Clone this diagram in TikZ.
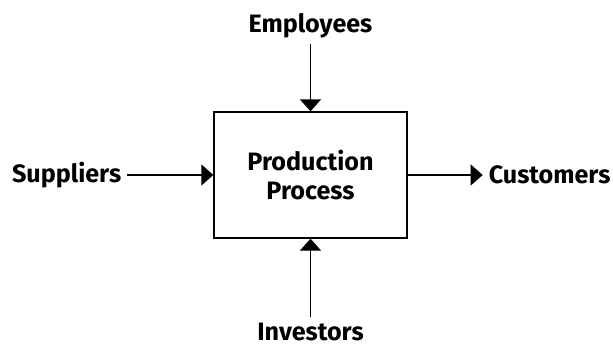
\documentclass[tikz,border=0pt]{standalone}
\usepackage{fontspec}
\setmainfont{Fira Sans}
\usetikzlibrary{positioning,arrows.meta}

\begin{document}
\begin{tikzpicture}[node distance=1.5cm,
  label/.style={font=\fontsize{14.3}{16.3}\selectfont\bfseries},
  flow/.style={-{Triangle[length=0.24cm,width=0.42cm]},line width=0.75pt}]
  \useasboundingbox (0,0) rectangle (12.26,7);

  % the process box in the middle
  \node[draw,line width=0.75pt,minimum width=3.86cm,minimum height=2.52cm,
    align=center,label] (proc) at (6.21,3.5) {Production\\Process};

  % the four parties round it
  \node[label,above=1.34cm of proc] (emp) {Employees};
  \node[label,below=1.56cm of proc] (inv) {Investors};
  \node[label,left=1.72cm of proc] (sup) {Suppliers};
  \node[label,right=1.5cm of proc] (cus) {Customers};

  \draw[flow] (emp) -- (proc);
  \draw[flow] (inv) -- (proc);
  \draw[flow] (sup) -- (proc);
  \draw[flow] (proc) -- (cus);
\end{tikzpicture}
\end{document}
